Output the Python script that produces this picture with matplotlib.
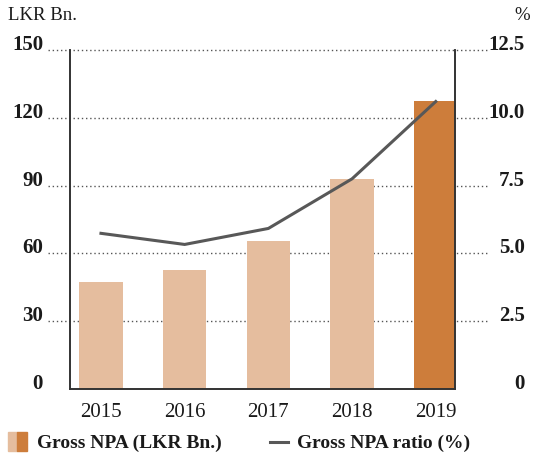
import matplotlib
matplotlib.use("Agg")
import matplotlib.pyplot as plt
import matplotlib.patches as mpatches
from matplotlib.lines import Line2D
from matplotlib.transforms import blended_transform_factory

years = ["2015", "2016", "2017", "2018", "2019"]
gross_npa = [47.3, 52.7, 65.5, 92.9, 127.4]
npa_ratio = [5.74, 5.33, 5.92, 7.75, 10.6]
left_ticks = [0, 30, 60, 90, 120, 150]
right_ticks = ["0", "2.5", "5.0", "7.5", "10.0", "12.5"]

light = "#E5BD9E"
dark = "#CD7D3B"
line_c = "#585858"
serif = ["Liberation Serif", "DejaVu Serif"]
plt.rcParams["font.family"] = serif

W, H = 533, 459
fig = plt.figure(figsize=(W / 100, H / 100), dpi=100)
ax = fig.add_axes([70 / W, 70 / H, 385 / W, 339 / H])
x = list(range(len(years)))
colors = [light] * (len(years) - 1) + [dark]
ax.bar(x, gross_npa, width=0.52, color=colors, zorder=2)
ax.set_xlim(-0.37, 4.23)
ax.set_ylim(0, 150)

# horizontal dotted grid extending beyond the axes, plus tick labels
tr = blended_transform_factory(fig.transFigure, ax.transData)
for v, rl in zip(left_ticks, right_ticks):
    if v > 0:
        ax.plot([48 / W, 488 / W], [v, v], transform=tr,
                color="#555555", lw=1.0, ls=(0, (1, 2)), clip_on=False, zorder=1)
    ax.text(43 / W, v, str(v), transform=tr, ha="right", va="baseline",
            fontsize=15, fontweight="bold", color="#1a1a1a")
    ax.text(525 / W, v, rl, transform=tr, ha="right", va="baseline",
            fontsize=15, fontweight="bold", color="#1a1a1a")

ax2 = ax.twinx()
ax2.set_ylim(0, 12.5)
ax2.plot(x, npa_ratio, color=line_c, lw=2.2, zorder=3)

for a in (ax, ax2):
    a.spines["top"].set_visible(False)
    for s in ("left", "right", "bottom"):
        a.spines[s].set_color("#333333")
        a.spines[s].set_linewidth(1.2)
    a.set_yticks([])

ax.set_xticks(x)
ax.set_xticklabels(years, fontsize=15, color="#1a1a1a")
ax.tick_params(axis="x", length=0, pad=10)

fig.text(8 / W, 1 - 20 / H, "LKR Bn.", fontsize=13.5, ha="left", va="baseline",
         color="#1a1a1a")
fig.text(530 / W, 1 - 20 / H, "%", fontsize=13.5, ha="right", va="baseline",
         color="#1a1a1a")

# legend
fig.patches.append(mpatches.Rectangle((8 / W, 1 - 451 / H), 9 / W, 19 / H,
                   transform=fig.transFigure, color=light))
fig.patches.append(mpatches.Rectangle((17 / W, 1 - 451 / H), 10 / W, 19 / H,
                   transform=fig.transFigure, color=dark))
fig.text(37 / W, 1 - 448 / H, "Gross NPA (LKR Bn.)", fontsize=14, fontweight="bold",
         ha="left", va="baseline", color="#1a1a1a")
fig.lines.append(Line2D([270 / W, 288 / W], [1 - 442 / H, 1 - 442 / H],
                        transform=fig.transFigure, color=line_c, lw=2.2))
fig.text(297 / W, 1 - 448 / H, "Gross NPA ratio (%)", fontsize=14, fontweight="bold",
         ha="left", va="baseline", color="#1a1a1a")

fig.savefig("out.png", dpi=100)
